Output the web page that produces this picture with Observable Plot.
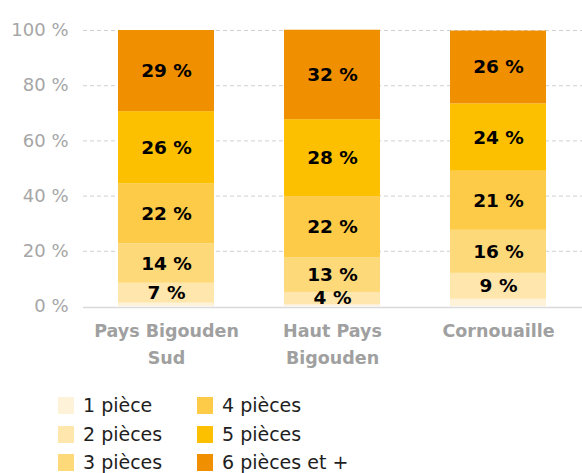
<!DOCTYPE html>
<html>
<head>
<meta charset="utf-8">
<script src="https://cdn.jsdelivr.net/npm/d3@7"></script>
<script src="https://cdn.jsdelivr.net/npm/@observablehq/plot@0.6"></script>
<style>
  html, body { margin: 0; padding: 0; background: #fff; }
  body { position: relative; width: 582px; height: 473px; overflow: hidden; font-family: "DejaVu Sans", sans-serif; }
  #legend { position: absolute; left: 58px; top: 397px; display: grid; grid-template-columns: 139px auto; grid-template-rows: repeat(3, 28.5px); grid-auto-flow: column; }
  .item { display: flex; align-items: flex-start; font-size: 19px; color: #1e1e1e; line-height: 17px; }
  .sw { width: 16px; height: 17px; margin-right: 9px; flex: none; }
</style>
</head>
<body>
<div id="chart"></div>
<div id="legend"></div>
<script>
const regions = ["Pays Bigouden Sud", "Haut Pays Bigouden", "Cornouaille"];
const regionLabels = ["Pays Bigouden\nSud", "Haut Pays\nBigouden", "Cornouaille"];
const types = ["1 pièce", "2 pièces", "3 pièces", "4 pièces", "5 pièces", "6 pièces et +"];
const colors = ["#FEF2D8", "#FEE6AD", "#FED97A", "#FDCB47", "#FCC000", "#F08F00"];
// values per type, one entry per region (order of regions)
const piece1 = [1.2, 0.7, 2.6];
const piece2 = [7.2, 4.4, 9.4];
const piece3 = [14.3, 12.6, 15.6];
const piece4 = [21.8, 22.1, 21.4];
const piece5 = [26.1, 27.9, 24.4];
const piece6 = [29.4, 32.4, 26.4];
const yTicks = [0, 20, 40, 60, 80, 100];

const series = [piece1, piece2, piece3, piece4, piece5, piece6];
const data = [];
types.forEach((t, i) => regions.forEach((r, j) => data.push({region: r, type: t, value: series[i][j]})));

const labelOf = new Map(regions.map((r, i) => [r, regionLabels[i]]));

const plot = Plot.plot({
  width: 582,
  height: 392,
  marginLeft: 83,
  marginRight: 0,
  marginTop: 30,
  marginBottom: 86,
  style: {fontFamily: "DejaVu Sans, sans-serif", fontSize: "18px", background: "#fff"},
  x: {domain: regions, paddingInner: 0.42, paddingOuter: 0.21, label: null},
  y: {domain: [0, 100], label: null},
  color: {domain: types, range: colors},
  marks: [
    Plot.gridY(yTicks.filter(d => d > 0), {stroke: "#d0d0d0", strokeOpacity: 1, strokeDasharray: "4,3", strokeWidth: 1}),
    Plot.barY(data, {x: "region", y: "value", fill: "type"}),
    Plot.ruleY([0], {stroke: "#d9d9d9", strokeWidth: 1.5, dy: 1}),
    Plot.text(data, Plot.stackY({
      x: "region", y: "value", z: "type",
      text: d => d.value >= 3 ? Math.round(d.value) + " %" : "",
      fill: "#000", fontWeight: "bold", fontSize: 18.5
    })),
    Plot.axisY({ticks: yTicks, tickSize: 0, tickPadding: 15, tickFormat: d => d + " %", color: "#a6a6a6", fontSize: 18, label: null}),
    Plot.axisX({tickSize: 0, tickPadding: 11, tickFormat: d => labelOf.get(d), lineHeight: 1.55, color: "#a0a0a0", fontWeight: "bold", fontSize: 17.5, label: null})
  ]
});
document.getElementById("chart").appendChild(plot);

const legend = document.getElementById("legend");
types.forEach((t, i) => {
  const item = document.createElement("div");
  item.className = "item";
  const sw = document.createElement("span");
  sw.className = "sw";
  sw.style.background = colors[i];
  const tx = document.createElement("span");
  tx.textContent = t;
  item.appendChild(sw);
  item.appendChild(tx);
  legend.appendChild(item);
});
</script>
</body>
</html>
